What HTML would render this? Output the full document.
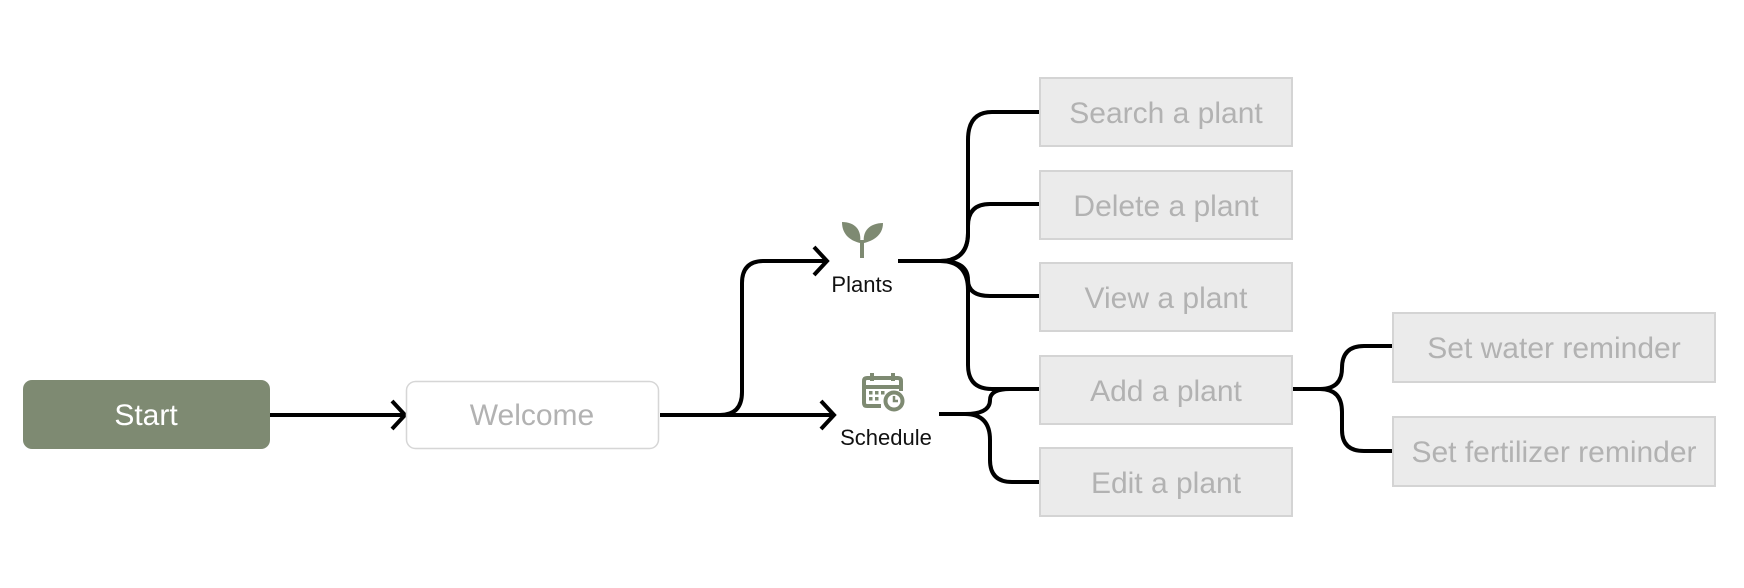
<!DOCTYPE html>
<html><head><meta charset="utf-8"><style>
html,body{margin:0;padding:0;background:#fff;width:1744px;height:588px;overflow:hidden}
svg{display:block}
text{font-family:"Liberation Sans",sans-serif}
</style></head><body>
<svg width="1744" height="588" viewBox="0 0 1744 588" xmlns="http://www.w3.org/2000/svg">
<g fill="none" stroke="#000" stroke-width="4">
<path d="M270 415 H404"/><path d="M392 401 L405 415 L392 429"/>
<path d="M660 415 H720 Q742 415 742 392 V283 Q742 261 764 261 H826"/><path d="M814 247 L827 261 L814 275"/>
<path d="M660 415 H833"/><path d="M821 401 L834 415 L821 429"/>
<path d="M898 261 H940 Q968 261 968 233 V226 Q968 204 990 204 H1040"/>
<path d="M940 261 Q968 261 968 233 V140 Q968 112 992 112 H1040"/>
<path d="M940 261 Q968 261 968 280 Q968 296 990 296 H1040"/>
<path d="M940 261 Q968 261 968 290 V365 Q968 389 992 389 H1040"/>
<path d="M939 414 H965 Q990 414 990 400 Q990 389 1010 389 H1040"/>
<path d="M965 414 Q990 414 990 440 V460 Q990 482 1012 482 H1040"/>
<path d="M1292 389 H1320 Q1342 389 1342 368 Q1342 346 1364 346 H1393"/>
<path d="M1320 389 Q1342 389 1342 412 V430 Q1342 451 1364 451 H1393"/>
</g>
<rect x="23" y="380" width="247" height="69" rx="9" fill="#7e8a72"/>
<text x="146" y="425" font-size="30" fill="#fff" text-anchor="middle">Start</text>
<rect x="406.5" y="381.5" width="252" height="67" rx="9" fill="#fff" stroke="#d6d6d6" stroke-width="1.5"/>
<text x="532" y="425" font-size="30" fill="#b2b2b2" text-anchor="middle">Welcome</text>
<g fill="#ebebeb" stroke="#d4d4d4" stroke-width="2">
<rect x="1040" y="78" width="252" height="68"/>
<rect x="1040" y="171" width="252" height="68"/>
<rect x="1040" y="263" width="252" height="68"/>
<rect x="1040" y="356" width="252" height="68"/>
<rect x="1040" y="448" width="252" height="68"/>
<rect x="1393" y="313" width="322" height="69"/>
<rect x="1393" y="417" width="322" height="69"/>
</g>
<g font-size="30" fill="#b2b2b2" text-anchor="middle">
<text x="1166" y="123">Search a plant</text>
<text x="1166" y="216">Delete a plant</text>
<text x="1166" y="308">View a plant</text>
<text x="1166" y="401">Add a plant</text>
<text x="1166" y="493">Edit a plant</text>
<text x="1554" y="358">Set water reminder</text>
<text x="1554" y="462">Set fertilizer reminder</text>
</g>
<g fill="#7e8a72">
<path d="M860 243 C852 241 842 236 842 222 C855 222 862 230 860 243Z"/>
<path d="M864 243 C872 241 883 236 883 223 C870 223 862 231 864 243Z"/>
<path d="M860 240 L860 258 L864 258 L864 240Z"/>
</g>
<text x="862" y="292" font-size="22" fill="#111" text-anchor="middle">Plants</text>
<g fill="none" stroke="#7e8a72" stroke-width="4">
<path d="M881 406 H867 Q864 406 864 403 V381 Q864 378 867 378 H898 Q901 378 901 381 V391"/>
<path d="M864 387 H901"/>
<path d="M872 373 V381 M893 373 V381"/>
<circle cx="894" cy="401" r="8.5" fill="#fff"/>
<path d="M894 396 V401 H898" stroke-width="2.5"/>
</g>
<g fill="#7e8a72">
<rect x="869" y="391" width="3.5" height="3.5"/><rect x="875" y="391" width="3.5" height="3.5"/><rect x="881" y="391" width="3.5" height="3.5"/>
<rect x="869" y="397" width="3.5" height="3.5"/><rect x="875" y="397" width="3.5" height="3.5"/>
</g>
<text x="886" y="445" font-size="22" fill="#111" text-anchor="middle">Schedule</text>
</svg>
</body></html>
